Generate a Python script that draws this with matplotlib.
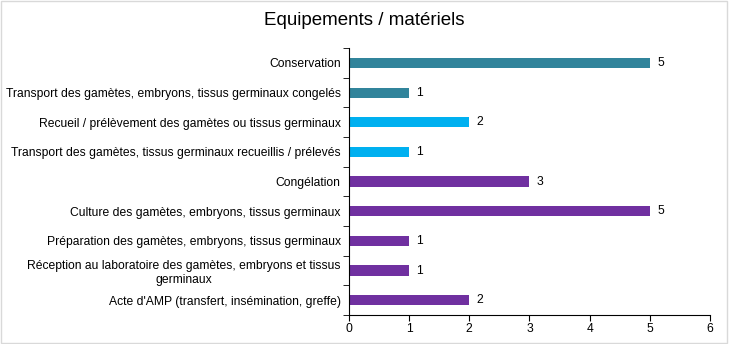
import matplotlib.pyplot as plt
from matplotlib.patches import Rectangle

plt.rcParams["font.family"] = ["Liberation Sans", "DejaVu Sans"]

# top to bottom as in the chart
categories = [
    "Conservation",
    "Transport des gamètes, embryons, tissus germinaux congelés",
    "Recueil / prélèvement des gamètes ou tissus germinaux",
    "Transport des gamètes, tissus germinaux recueillis / prélevés",
    "Congélation",
    "Culture des gamètes, embryons, tissus germinaux",
    "Préparation des gamètes, embryons, tissus germinaux",
    "Réception au laboratoire des gamètes, embryons et tissus\ngerminaux",
    "Acte d'AMP (transfert, insémination, greffe)",
]
values = [5, 1, 2, 1, 3, 5, 1, 1, 2]
bar_colors = ["#31849B", "#31849B", "#00B0F0", "#00B0F0",
              "#7030A0", "#7030A0", "#7030A0", "#7030A0", "#7030A0"]
x_ticks = [0, 1, 2, 3, 4, 5, 6]

fig = plt.figure(figsize=(7.29, 3.44), dpi=100)
ax = fig.add_axes([0.4787, 0.0843, 0.4952, 0.776])

ypos = list(range(len(categories)))[::-1]
ax.barh(ypos, values, height=0.34, color=bar_colors)
for y, v in zip(ypos, values):
    ax.text(v + 0.12, y, str(v), va="center", ha="left", fontsize=8.7)

ax.set_xlim(0, 6)
ax.set_ylim(-0.5, len(categories) - 0.5)
ax.set_xticks(x_ticks)
ax.set_yticks(ypos)
ax.set_yticklabels(categories, fontsize=8.7, multialignment="center")
ax.set_yticks([i - 0.5 for i in range(len(categories) + 1)], minor=True)
ax.tick_params(axis="y", which="major", length=0, pad=6)
ax.tick_params(axis="y", which="minor", length=4, direction="out")
ax.tick_params(axis="x", labelsize=8.7, length=4, direction="out", pad=2)
for side in ["top", "right"]:
    ax.spines[side].set_visible(False)

fig.text(0.50, 0.94, "Equipements / matériels",
         ha="center", va="center", fontsize=13.5)
fig.patches.append(Rectangle((0.001, 0.002), 0.996, 0.995, transform=fig.transFigure,
                             fill=False, edgecolor="#d9d9d9", linewidth=1))

fig.savefig("out.png", dpi=100)
